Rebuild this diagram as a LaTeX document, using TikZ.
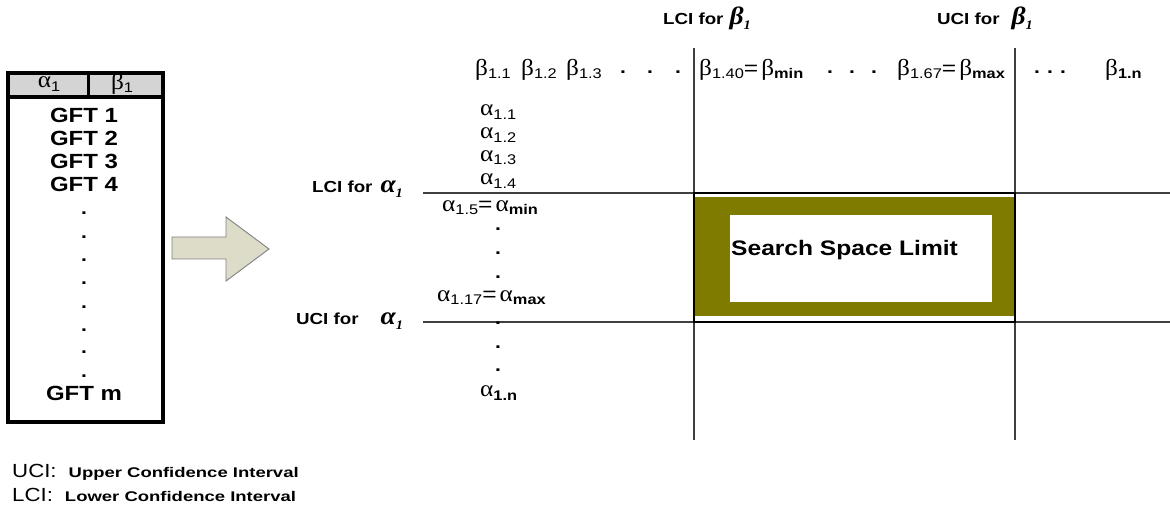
\documentclass[tikz,border=0pt]{standalone}
\usepackage{fontspec}
\setmainfont[FakeStretch=1.17]{Liberation Sans}
\newfontfamily\widef[FakeStretch=1.32]{Liberation Sans}
\newfontfamily\gkf[FakeStretch=1.1]{Liberation Serif}
\newcommand\sbs[1]{\raisebox{-0.6ex}{\fontsize{14}{14}\selectfont #1}}
\newcommand\gk[1]{{\gkf\fontsize{23}{23}\selectfont #1}}
\newcommand\eq{{\fontsize{21}{21}\selectfont =}\hspace{3pt}}
\newcommand\ga{\gk{α}}
\newcommand\gb{\gk{β}}
\newcommand\ia{{\gkf\itshape\fontsize{25}{25}\selectfont α}\raisebox{-0.6ex}{\gkf\itshape\fontsize{13}{13}\selectfont 1}}
\newcommand\ib{{\gkf\itshape\fontsize{25}{25}\selectfont β}\raisebox{-0.6ex}{\gkf\itshape\fontsize{13}{13}\selectfont 1}}
\definecolor{olive}{HTML}{7F7A00}
\definecolor{hdr}{HTML}{D4D4D4}
\definecolor{arrfill}{HTML}{DCDCC9}
\tikzset{
  lbl/.style={inner sep=0pt, font=\bfseries\fontsize{20.5}{22}\selectfont},
  small/.style={inner sep=0pt, font=\bfseries\fontsize{16}{17}\selectfont},
  gr/.style={inner sep=0pt},
  grid/.style={draw=black!75, line width=1.1pt},
  dot/.style={inner sep=0pt, font=\bfseries\fontsize{18}{18}\selectfont}
}
\begin{document}
\begin{tikzpicture}[x=1pt,y=-1pt]
\useasboundingbox (0,0) rectangle (1170,510);
% left table
\fill[hdr] (8,73) rectangle (163,97);
\draw[line width=3.2pt] (8,73) rectangle (163,422);
\draw[line width=3.2pt] (8,97) -- (163,97);
\draw[line width=3pt] (88,73) -- (88,97);
\node[gr] (ha) at (49,84) {\gk{α}\sbs{1}};
\node[gr] (hb) at (122,84) {\gk{β}\sbs{1}};
\node[lbl] (g1) at (84,115) {GFT 1};
\node[lbl] (g2) at (84,138) {GFT 2};
\node[lbl] (g3) at (84,161) {GFT 3};
\node[lbl] (g4) at (84,184) {GFT 4};
\foreach \y in {213,237,260,283,307,330,352,376} \node[dot] at (84,\y) {.};
\node[lbl] (gm) at (84,393) {GFT m};
% block arrow
\draw[draw=black!50, fill=arrfill, line width=0.9pt, line join=miter]
  (172,237) -- (226,237) -- (226,217) -- (269,249) -- (226,281) -- (226,259) -- (172,259) -- cycle;
% grid lines
\coordinate (v1t) at (694,48); \coordinate (v1b) at (694,440);
\coordinate (v2t) at (1015,48); \coordinate (v2b) at (1015,440);
\coordinate (h1l) at (423,193); \coordinate (h1r) at (1170,193);
\coordinate (h2l) at (423,322); \coordinate (h2r) at (1170,322);
% olive search box
\fill[olive] (694,197) rectangle (1015,316);
\fill[white] (730,215) rectangle (992,302);
\node[inner sep=0pt, font=\bfseries\fontsize{21}{22}\selectfont, anchor=west] (ssl) at (731,250) {Search Space Limit};
\draw[grid] (v1t) -- (v1b);
\draw[grid] (v2t) -- (v2b);
\draw[grid] (h1l) -- (h1r);
\draw[grid] (h2l) -- (h2r);
\draw[line width=1.8pt] (694,193) rectangle (1015,322);
% top labels
\node[small, anchor=west] (lcib) at (663,18) {LCI for\hspace{6pt}\ib};
\node[small, anchor=west] (ucib) at (937,18) {UCI for\hspace{12pt}\ib};
% beta row
\node[gr, anchor=west] (b1) at (475,70) {\gb\sbs{1.1}};
\node[gr, anchor=west] (b2) at (521,70) {\gb\sbs{1.2}};
\node[gr, anchor=west] (b3) at (566,70) {\gb\sbs{1.3}};
\foreach \x in {623,650,678} \node[dot] at (\x,72) {.};
\node[gr, anchor=west] (b40) at (699,70) {\gb\sbs{1.40}\eq\gb\sbs{\bfseries min}};
\foreach \x in {830,852,874} \node[dot] at (\x,72) {.};
\node[gr, anchor=west] (b67) at (897,70) {\gb\sbs{1.67}\eq\gb\sbs{\bfseries max}};
\foreach \x in {1037,1050,1063} \node[dot] at (\x,72) {.};
\node[gr, anchor=west] (bn) at (1105,70) {\gb\sbs{\bfseries 1.n}};
% alpha column
\node[gr, anchor=west] (a1) at (480,112) {\ga\sbs{1.1}};
\node[gr, anchor=west] (a2) at (480,135) {\ga\sbs{1.2}};
\node[gr, anchor=west] (a3) at (480,158) {\ga\sbs{1.3}};
\node[gr, anchor=west] (a4) at (480,181) {\ga\sbs{1.4}};
\node[gr, anchor=west] (a5) at (442,208) {\ga\sbs{1.5}\eq\ga\sbs{\bfseries min}};
\foreach \y in {229,253,277} \node[dot] at (498,\y) {.};
\node[gr, anchor=west] (a17) at (437,298) {\ga\sbs{1.17}\eq\ga\sbs{\bfseries max}};
\foreach \y in {323,347,370} \node[dot] at (498,\y) {.};
\node[gr, anchor=west] (an) at (480,393) {\ga\sbs{\bfseries 1.n}};
% side labels
\node[small, anchor=west] (lcia) at (312,189) {LCI for\hspace{8pt}\ia};
\node[small, anchor=west] (ucia) at (296,321) {UCI for\hspace{22pt}\ia};
% legend
\node[inner sep=0pt, anchor=west, font=\fontsize{19}{20}\selectfont] (leg1) at (12,472) {UCI:\hspace{12pt}{\widef\bfseries\fontsize{14}{15}\selectfont Upper Confidence Interval}};
\node[inner sep=0pt, anchor=west, font=\fontsize{19}{20}\selectfont] (leg2) at (12,495) {LCI:\hspace{12pt}{\widef\bfseries\fontsize{14}{15}\selectfont Lower Confidence Interval}};
\end{tikzpicture}
\end{document}
